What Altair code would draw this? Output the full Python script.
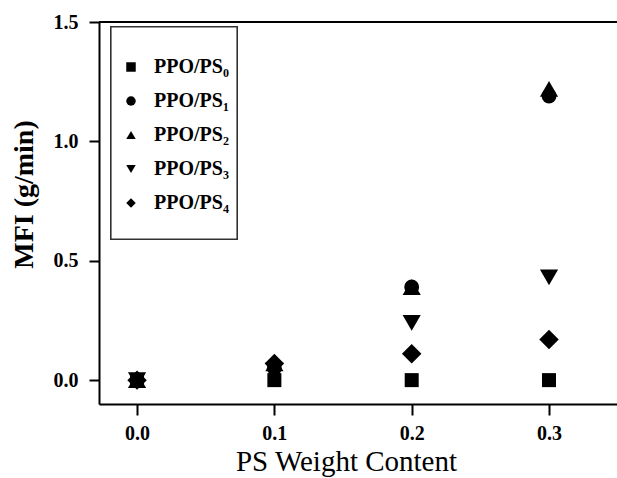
import altair as alt
import pandas as pd

x_vals = [0.0, 0.1, 0.2, 0.3]
series = ["PPO/PS₀", "PPO/PS₁", "PPO/PS₂", "PPO/PS₃", "PPO/PS₄"]
ps0 = [0.0, 0.0, 0.0, 0.0]
ps1 = [0.0, 0.05, 0.39, 1.19]
ps2 = [0.0, 0.07, 0.39, 1.22]
ps3 = [0.0, 0.04, 0.24, 0.43]
ps4 = [0.0, 0.07, 0.11, 0.17]
x_ticks = [0.0, 0.1, 0.2, 0.3]
y_ticks = [0.0, 0.5, 1.0, 1.5]

rows = []
for name, vals in zip(series, [ps0, ps1, ps2, ps3, ps4]):
    for xv, yv in zip(x_vals, vals):
        rows.append({"x": xv, "y": yv, "series": name})
df = pd.DataFrame(rows)

FONT = "Liberation Serif"
LEFT = 99
W, H = 518, 382
xdom = [-0.0277, 0.3495]
ydom = [-0.1, 1.5]

shapes = ["square", "circle", "triangle-up", "triangle-down", "diamond"]
sizes = [196, 220, 330, 330, 380]

x_enc = alt.X("x:Q", scale=alt.Scale(domain=xdom, nice=False, zero=False),
              axis=alt.Axis(values=x_ticks, format=".1f", title="PS Weight Content",
                            grid=False, domainWidth=2, domainColor="black",
                            tickWidth=2, tickColor="black", tickSize=11,
                            labelFont=FONT, labelFontSize=20, labelFontWeight="bold",
                            labelColor="black", labelPadding=8,
                            titleFont=FONT, titleFontSize=29, titleFontWeight="normal",
                            titleColor="black", titlePadding=4, titleX=247))
y_enc = alt.Y("y:Q", scale=alt.Scale(domain=ydom, nice=False, zero=False),
              axis=alt.Axis(values=y_ticks, format=".1f", title="MFI (g/min)",
                            grid=False, domainWidth=2, domainColor="black",
                            tickWidth=2, tickColor="black", tickSize=10,
                            labelFont=FONT, labelFontSize=20, labelFontWeight="bold",
                            labelColor="black", labelPadding=11,
                            titleFont=FONT, titleFontSize=28, titleFontWeight="bold",
                            titleColor="black", titleY=172, titleX=-61))
shape_enc = alt.Shape("series:N", scale=alt.Scale(domain=series, range=shapes),
                      legend=alt.Legend(title=None, orient="none", legendX=22, legendY=35,
                                        padding=0, symbolSize=90, symbolFillColor="black",
                                        symbolStrokeColor="black",
                                        labelFont=FONT, labelFontSize=20, labelFontWeight="bold",
                                        labelColor="black", labelOffset=13, rowPadding=14,
                                        labelLimit=300))

layers = []
frame = alt.Chart(df).mark_rule(color="black", strokeWidth=2).encode(
    x=alt.value(0), x2=alt.value(W), y=alt.value(0))
layers.append(frame)
legend_box = alt.Chart(df).mark_rect(fill="white", stroke="#333", strokeWidth=1.2).encode(
    x=alt.value(12), x2=alt.value(138), y=alt.value(5), y2=alt.value(217))
layers.append(legend_box)
for name, s in zip(series, sizes):
    layers.append(
        alt.Chart(df).transform_filter(alt.datum.series == name)
        .mark_point(filled=True, opacity=1, color="black", size=s)
        .encode(x=x_enc, y=y_enc, shape=shape_enc)
    )

chart = alt.layer(*layers).properties(
    width=W, height=H,
    autosize=alt.AutoSizeParams(type="none"),
    padding={"left": LEFT, "top": 22, "right": 0, "bottom": 74},
).configure_view(stroke=None).configure(background="white")

chart.save("out.html", embed_options={"renderer": "svg", "actions": False})
